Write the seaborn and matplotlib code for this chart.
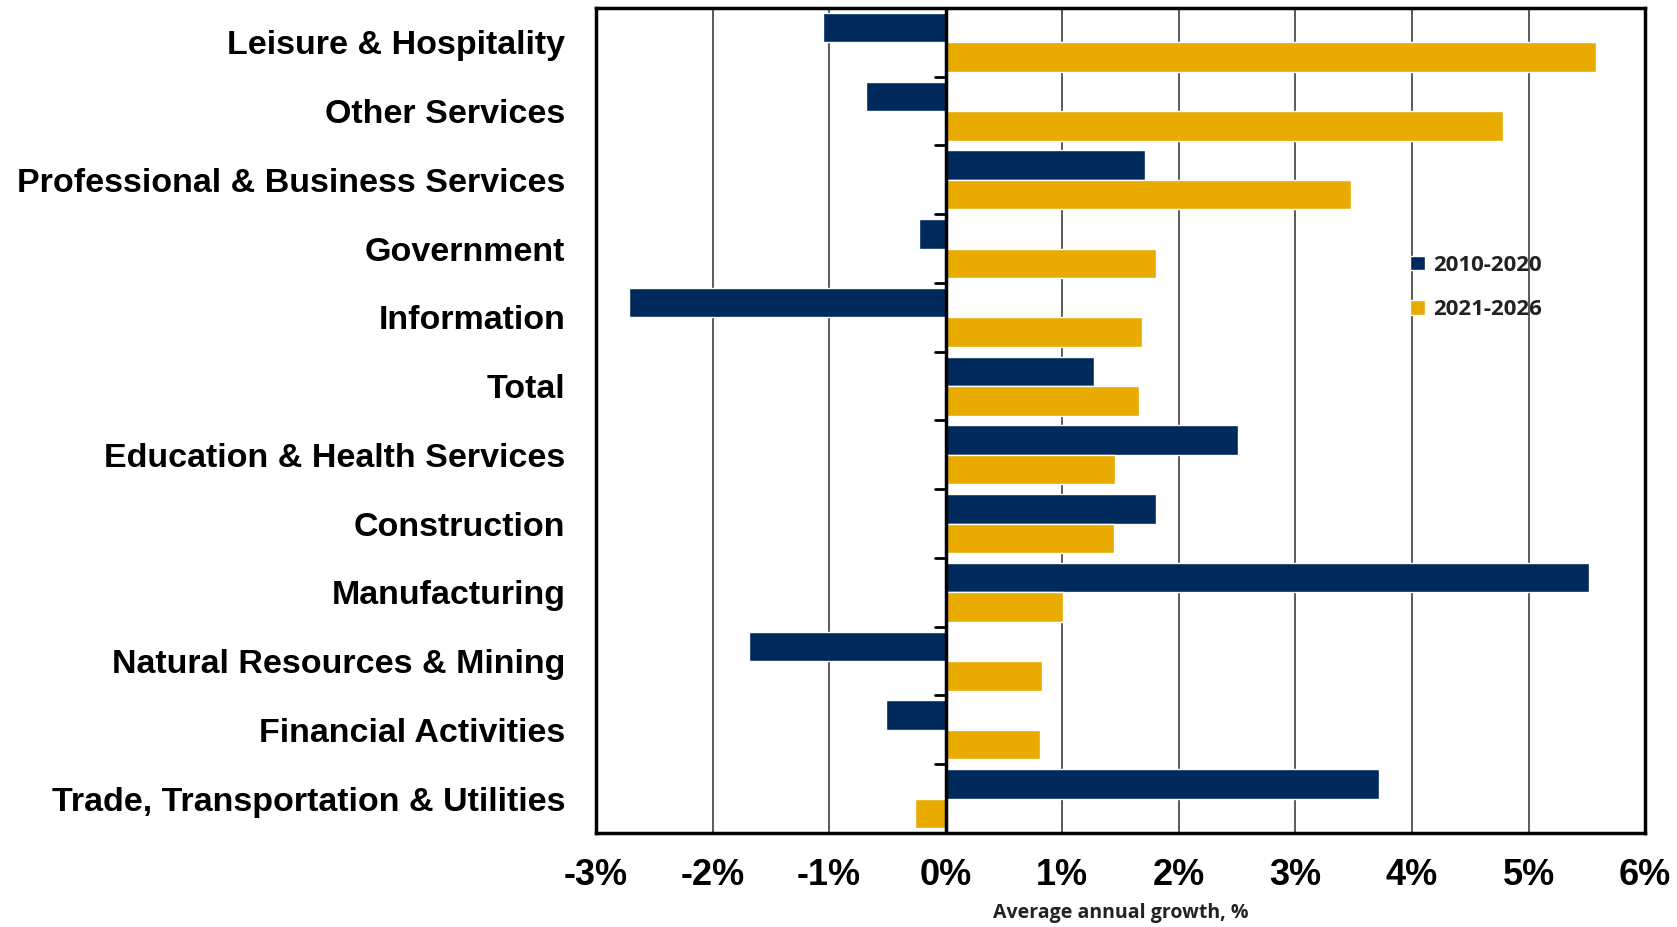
import pandas as pd
import seaborn as sns
import matplotlib.pyplot as plt
import numpy as np
from matplotlib.ticker import FuncFormatter

# data, top to bottom as in the chart
sectors = ["Leisure & Hospitality", "Other Services", "Professional & Business Services",
           "Government", "Information", "Total", "Education & Health Services",
           "Construction", "Manufacturing", "Natural Resources & Mining",
           "Financial Activities", "Trade, Transportation & Utilities"]
growth_2010_2020 = [-1.05, -0.68, 1.71, -0.23, -2.72, 1.27, 2.51, 1.80, 5.52, -1.69, -0.51, 3.72]
growth_2021_2026 = [5.58, 4.78, 3.48, 1.80, 1.68, 1.66, 1.45, 1.44, 1.01, 0.83, 0.81, -0.26]
periods = ["2010-2020", "2021-2026"]
x_ticks = [-3, -2, -1, 0, 1, 2, 3, 4, 5, 6]

df = pd.DataFrame({
    "sector": sectors * 2,
    "growth": growth_2010_2020 + growth_2021_2026,
    "period": [periods[0]] * len(sectors) + [periods[1]] * len(sectors),
})

sns.set_style("white")
plt.rcParams["font.family"] = ["Liberation Sans", "DejaVu Sans"]

fig = plt.figure(figsize=(16.77, 9.27), dpi=100)
ax = fig.add_axes([0.3554, 0.1014, 0.6256, 0.89])

sns.barplot(data=df, x="growth", y="sector", hue="period", hue_order=periods,
            order=sectors, orient="h", palette=["#002A5C", "#E9AB00"],
            width=0.86, saturation=1, ax=ax, legend=True)

ax.set_xlim(-3, 6)
ax.set_ylim(len(sectors) - 0.5, -0.5)
ax.set_xticks(x_ticks)
ax.xaxis.set_major_formatter(FuncFormatter(lambda v, p: f"{v:.0f}%"))
ax.grid(axis="x", color="#404040", linewidth=1.2)
ax.set_axisbelow(True)
ax.axvline(0, color="black", linewidth=2.5, zorder=3)

# small tick marks on the zero line between categories
for b in np.arange(len(sectors) - 1) + 0.5:
    ax.plot([-0.09, 0], [b, b], color="black", linewidth=2, zorder=3)

for s in ax.spines.values():
    s.set_visible(True)
    s.set_color("black")
    s.set_linewidth(2.5)

ax.tick_params(axis="x", direction="out", length=8, width=2, color="black",
               labelcolor="black", pad=10)
ax.tick_params(axis="y", length=0, pad=22, labelcolor="black")
for lab in ax.get_xticklabels():
    lab.set_fontsize(26)
    lab.set_fontweight("bold")
for lab in ax.get_yticklabels():
    lab.set_fontsize(24.5)
    lab.set_fontweight("bold")

ax.set_ylabel("")
ax.set_xlabel("Average annual growth, %", fontsize=14, fontweight="bold",
              family=["Open Sans", "DejaVu Sans"], color="#222222", labelpad=7)

leg = ax.legend(loc="upper left", bbox_to_anchor=(0.757, 0.725), frameon=False,
                prop={"family": ["Open Sans", "DejaVu Sans"], "weight": "bold", "size": 16},
                handlelength=0.65, handleheight=0.65, handletextpad=0.4, labelspacing=1.05)
for t in leg.get_texts():
    t.set_color("#222222")

fig.savefig("out.png", dpi=100)
